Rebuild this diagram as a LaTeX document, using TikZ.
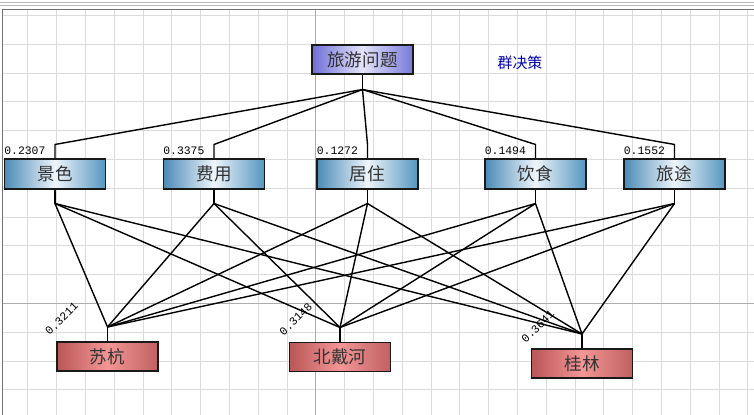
\documentclass[tikz,border=0pt]{standalone}
\usepackage{xcolor}
\usepackage{fontspec}
\usepackage{tikz}
\setmainfont{Liberation Serif}
\newfontfamily\cjk{Noto Sans CJK SC}
\newfontfamily\num{Liberation Mono}
\definecolor{goalL}{HTML}{6E6ED6}
\definecolor{goalM}{HTML}{E4E4FA}
\definecolor{goalR}{HTML}{7878D8}
\definecolor{critL}{HTML}{4B8BB7}
\definecolor{critM}{HTML}{EEF5FA}
\definecolor{critR}{HTML}{5596C0}
\definecolor{altL}{HTML}{B95656}
\definecolor{altM}{HTML}{F49696}
\definecolor{altR}{HTML}{C06060}

\begin{document}
\begin{tikzpicture}[x=0.02cm, y=-0.02cm,
    every node/.style={font=\cjk\fontsize{10}{12}\selectfont, text=black!80},
    box/.style={draw=black!90, line width=0.6pt, minimum width=2.02cm, minimum height=0.58cm, inner sep=0pt},
    goal/.style={box, left color=goalL, right color=goalR, middle color=goalM},
    crit/.style={box, minimum height=0.6cm, left color=critL, right color=critR, middle color=critM},
    alt/.style={box, left color=altL, right color=altR, middle color=altM},
    wt/.style={font=\num\fontsize{6.5}{7}\selectfont, inner sep=0pt, text=black},
    link/.style={line width=0.8pt},
    gridline/.style={black!14, line width=0.5pt},
    gridmajor/.style={black!32, line width=0.5pt}]
        \useasboundingbox (0,0) rectangle (754,415);
        \fill[white] (0,0) rectangle (754,415);
        \foreach \k in {0,...,25} \draw[gridline] ({27.9+28.8*\k},9) -- ({27.9+28.8*\k},415);
        \foreach \k in {0,...,13} \draw[gridline] (2.5,{15.4+28.8*\k}) -- (754,{15.4+28.8*\k});
        \draw[gridmajor] (315.9,9) -- (315.9,415);
        \draw[gridmajor] (2.5,303.4) -- (754,303.4);
        \draw[black!28] (0,2) -- (754,2);
        \draw[black!28] (0,5.5) -- (754,5.5);
        \draw[black!55] (2.5,9) -- (754,9);
        \draw[black!55] (2.5,9) -- (2.5,415);

        \node[goal] (goal) at (362.5,59.5) {旅游问题};
        \node[font=\cjk\fontsize{8.5}{10}\selectfont, text=blue!70!black] (gdm) at (520,63) {群决策};
        \node[crit] (c1) at (55,174) {景色};
        \node[crit] (c2) at (214,174) {费用};
        \node[crit] (c3) at (367.5,174) {居住};
        \node[crit] (c4) at (535.5,174) {饮食};
        \node[crit] (c5) at (674.5,174) {旅途};
        \node[alt] (a1) at (107.5,356.5) {苏杭};
        \node[alt] (a2) at (340,357) {北戴河};
        \node[alt] (a3) at (582,363.5) {桂林};

        \node[wt, anchor=base west] (w1) at ([yshift=2pt]c1.north west) {0.2307};
        \node[wt, anchor=base west] (w2) at ([yshift=2pt]c2.north west) {0.3375};
        \node[wt, anchor=base west] (w3) at ([yshift=2pt]c3.north west) {0.1272};
        \node[wt, anchor=base west] (w4) at ([yshift=2pt]c4.north west) {0.1494};
        \node[wt, anchor=base west] (w5) at ([yshift=2pt]c5.north west) {0.1552};
        \node[wt, rotate=45, anchor=base west] (v1) at ([xshift=-4pt,yshift=3pt]a1.north west) {0.3211};
        \node[wt, rotate=45, anchor=base west] (v2) at ([xshift=-3pt,yshift=3pt]a2.north west) {0.3148};
        \node[wt, rotate=45, anchor=base west] (v3) at ([xshift=-3pt,yshift=2.5pt]a3.north west) {0.3641};

        \coordinate (g0) at ([yshift=-0.3cm]goal.south);
        \foreach \i in {1,...,5} {
            \coordinate (u\i) at ([yshift=0.28cm]c\i.north);
            \coordinate (d\i) at ([yshift=-0.28cm]c\i.south);
        }
        \foreach \j in {1,2,3} \coordinate (t\j) at ([yshift=0.29cm]a\j.north);

        \draw[link] (goal.south) -- (g0);
        \foreach \i in {1,...,5} \draw[link] (g0) -- (u\i) -- (c\i.north);
        \foreach \i in {1,...,5} \draw[link] (c\i.south) -- (d\i);
        \foreach \j in {1,2,3} \draw[link] (t\j) -- (a\j.north);
        \foreach \i in {1,...,5} \foreach \j in {1,2,3} \draw[link] (d\i) -- (t\j);
    \end{tikzpicture}
\end{document}
